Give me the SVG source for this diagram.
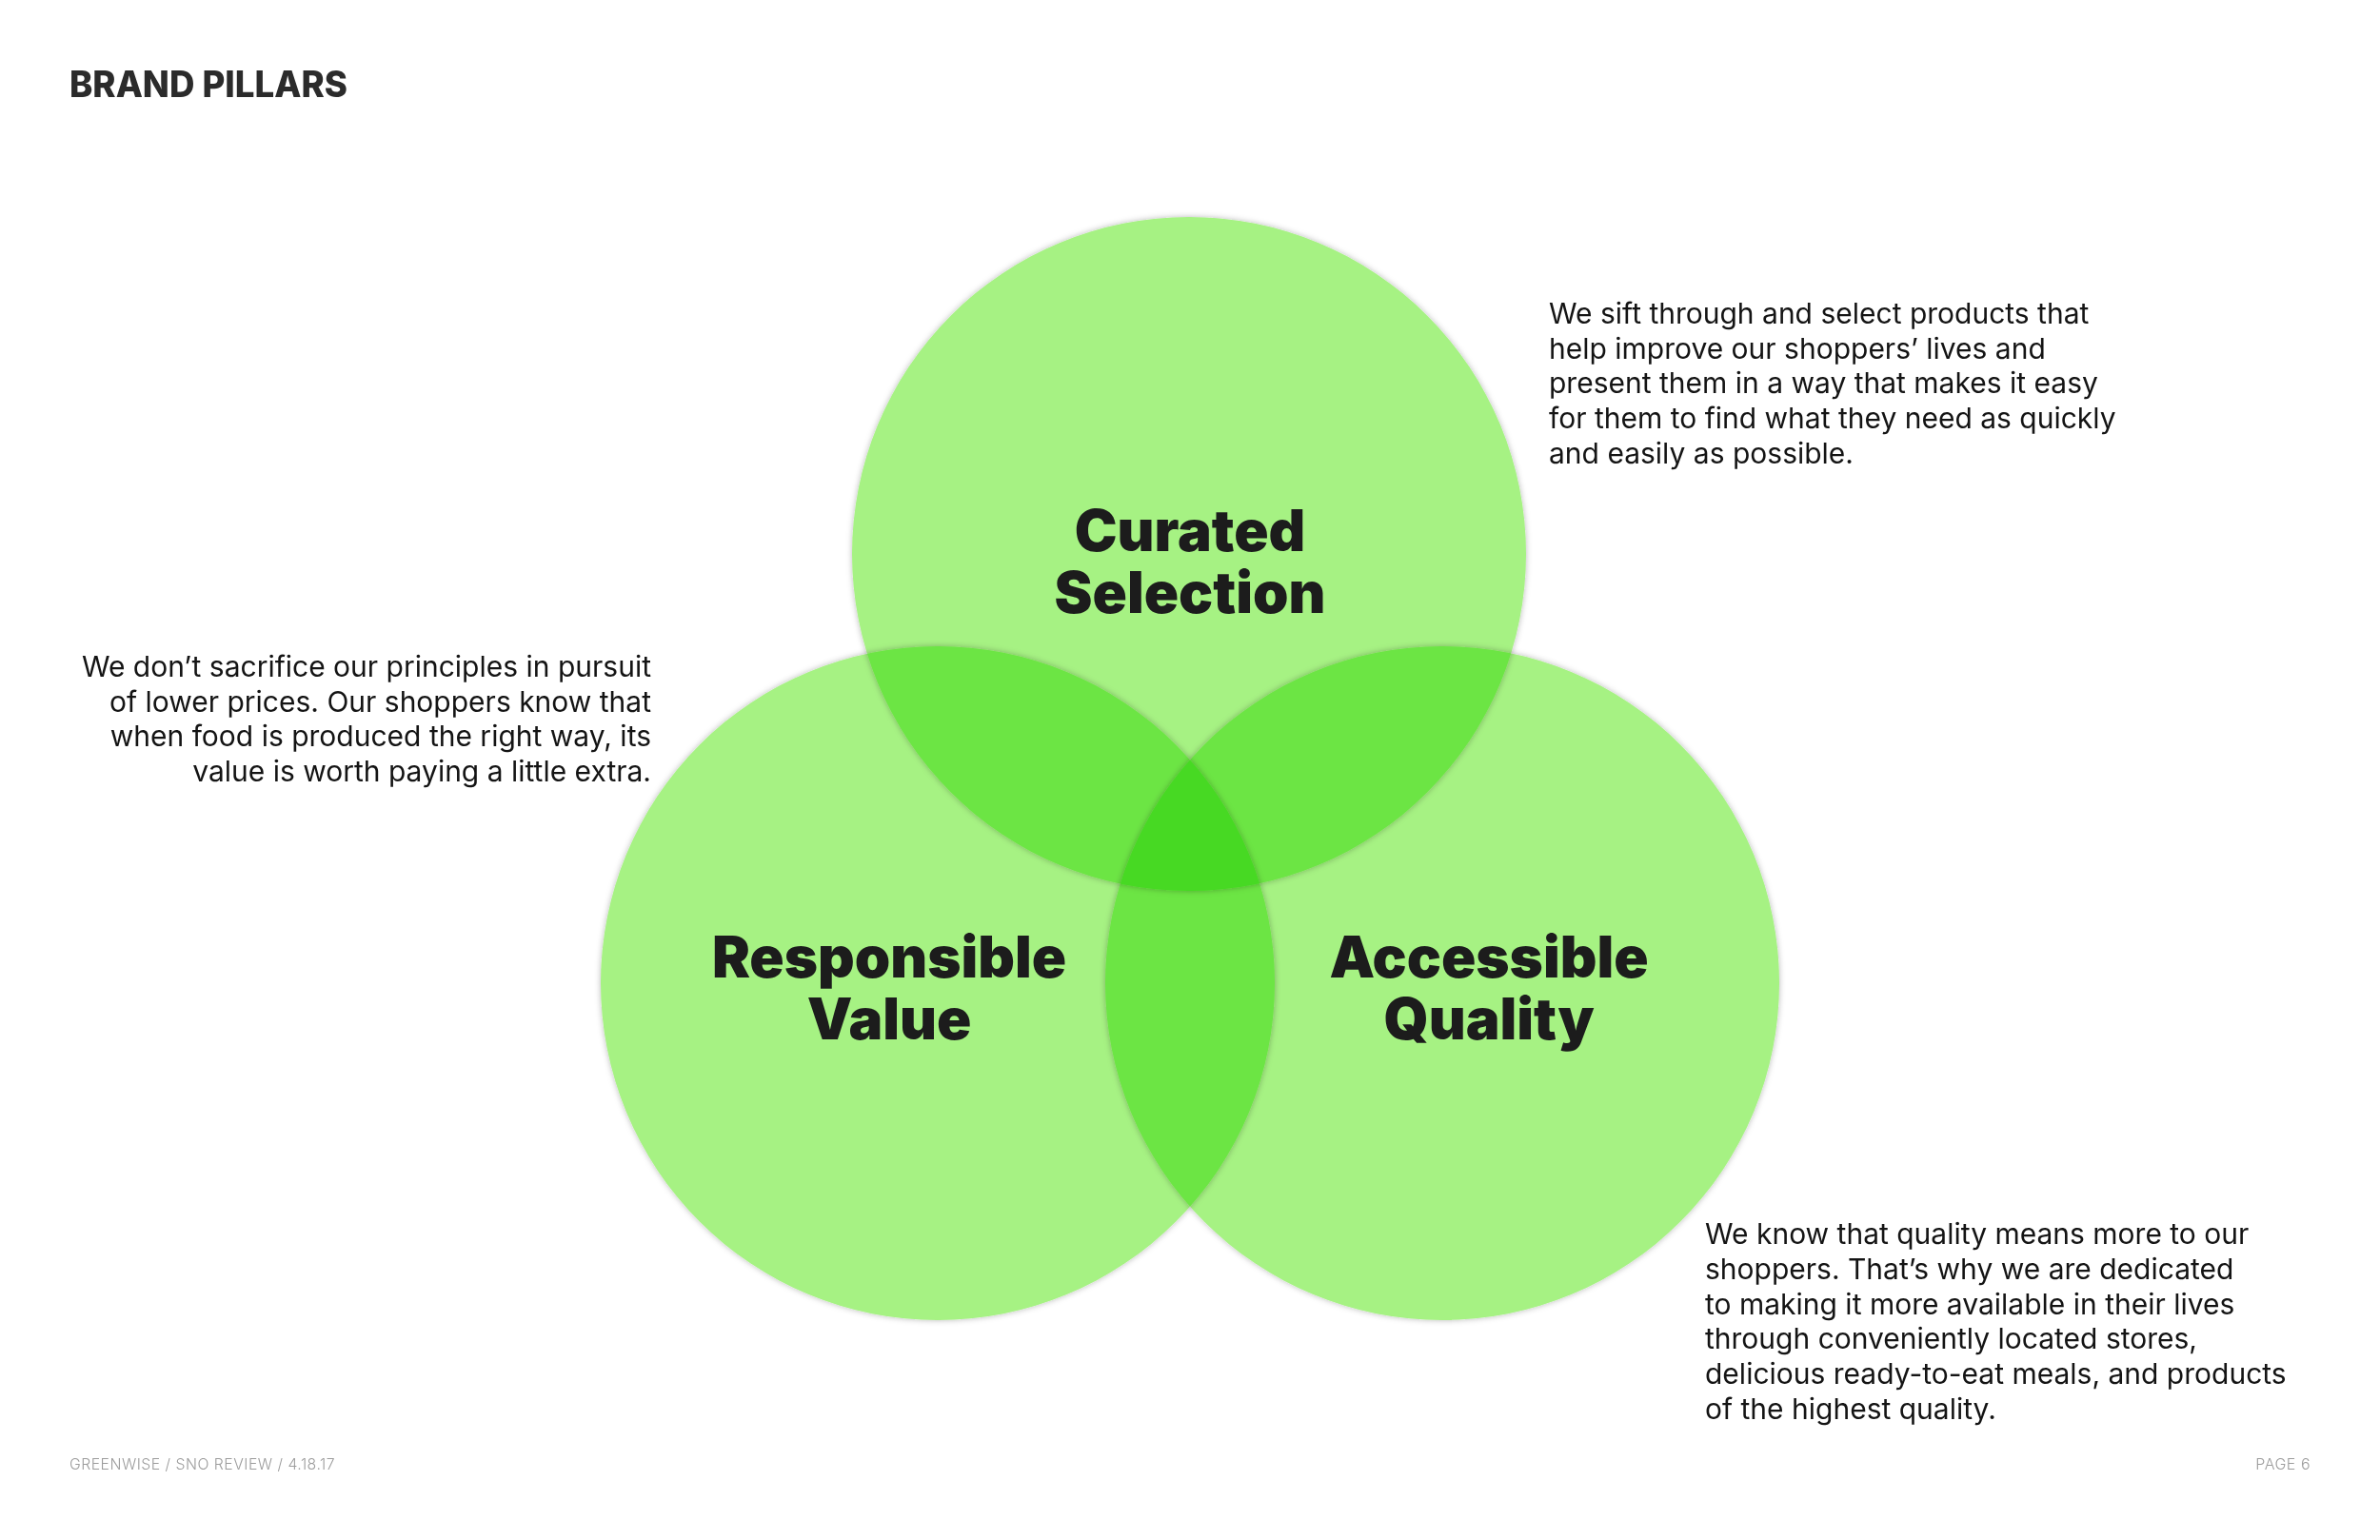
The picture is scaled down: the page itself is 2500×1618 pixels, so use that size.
<svg xmlns="http://www.w3.org/2000/svg" width="2500" height="1618" viewBox="0 0 2500 1618">
  <defs>
    <filter id="soft" x="-10%" y="-10%" width="120%" height="120%">
      <feDropShadow dx="0" dy="0" stdDeviation="3" flood-color="#000" flood-opacity="0.28"/>
    </filter>
    <style>
      .circ { fill: #a6f283; mix-blend-mode: multiply; filter: url(#soft); }
      .label { font-family: Inter, "Liberation Sans", sans-serif; font-weight: 900; font-size: 60px; fill: #1c1c1c; text-anchor: middle; }
      .body { font-family: Inter, "Liberation Sans", sans-serif; font-weight: 400; font-size: 30px; fill: #141414; }
      .title { font-family: Inter, "Liberation Sans", sans-serif; font-weight: 800; font-size: 38px; fill: #2b2b2b; }
      .foot { font-family: Inter, "Liberation Sans", sans-serif; font-weight: 300; font-size: 16px; fill: #9c9c9c; letter-spacing: 0.5px; }
    </style>
  </defs>
  <rect x="0" y="0" width="2500" height="1618" fill="#ffffff"/>

  <text class="title" x="73" y="102" textLength="292" lengthAdjust="spacingAndGlyphs">BRAND PILLARS</text>

  <g id="circles">
    <g id="node-curated">
      <circle class="circ" cx="1249" cy="582" r="354"/>
    </g>
    <g id="node-responsible">
      <circle class="circ" cx="985" cy="1033" r="354"/>
    </g>
    <g id="node-accessible">
      <circle class="circ" cx="1515" cy="1033" r="354"/>
    </g>
  </g>

  <g id="labels">
    <text class="label" x="1250" y="579">Curated</text>
    <text class="label" x="1250" y="644">Selection</text>
    <text class="label" x="934" y="1027">Responsible</text>
    <text class="label" x="934" y="1092">Value</text>
    <text class="label" x="1564" y="1027">Accessible</text>
    <text class="label" x="1564" y="1092">Quality</text>
  </g>

  <g id="desc-curated" class="body">
    <text x="1627" y="340">We sift through and select products that</text>
    <text x="1627" y="377">help improve our shoppers’ lives and</text>
    <text x="1627" y="413">present them in a way that makes it easy</text>
    <text x="1627" y="450">for them to find what they need as quickly</text>
    <text x="1627" y="487">and easily as possible.</text>
  </g>

  <g id="desc-responsible" class="body" text-anchor="end">
    <text x="684" y="711">We don’t sacrifice our principles in pursuit</text>
    <text x="684" y="748">of lower prices. Our shoppers know that</text>
    <text x="684" y="784">when food is produced the right way, its</text>
    <text x="684" y="821">value is worth paying a little extra.</text>
  </g>

  <g id="desc-accessible" class="body">
    <text x="1791" y="1307">We know that quality means more to our</text>
    <text x="1791" y="1344">shoppers. That’s why we are dedicated</text>
    <text x="1791" y="1381">to making it more available in their lives</text>
    <text x="1791" y="1417">through conveniently located stores,</text>
    <text x="1791" y="1454">delicious ready-to-eat meals, and products</text>
    <text x="1791" y="1491">of the highest quality.</text>
  </g>

  <g id="connectors"></g>

  <text class="foot" x="73" y="1544" textLength="279" lengthAdjust="spacingAndGlyphs">GREENWISE / SNO REVIEW / 4.18.17</text>
  <text class="foot" x="2427" y="1544" text-anchor="end">PAGE 6</text>
</svg>
